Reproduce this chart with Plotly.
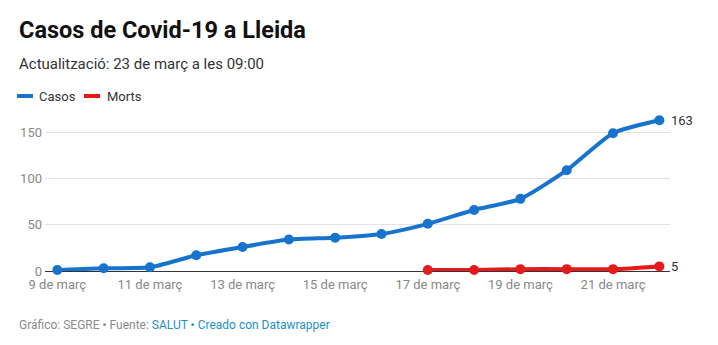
import plotly.graph_objects as go

# Days of March 2020 and daily cumulative counts
days = [9, 10, 11, 12, 13, 14, 15, 16, 17, 18, 19, 20, 21, 22]
casos = [1, 3, 4, 17, 26, 34, 36, 40, 51, 66, 78, 109, 149, 163]
morts_days = [17, 18, 19, 20, 21, 22]
morts = [1, 1, 2, 2, 2, 5]

tick_days = [9, 11, 13, 15, 17, 19, 21]
tick_labels = [f"{d} de març" for d in tick_days]
y_ticks = [0, 50, 100, 150]

BLUE = "#1873cc"
RED = "#e41a1c"
LINK = "#1d8fc7"
FONT = "Roboto"

W, H = 718, 345
ML, MR, MT, MB = 45, 48, 115, 74
PW, PH = W - ML - MR, H - MT - MB


def px_x(x):
    """Pixel column -> paper x."""
    return (x - ML) / PW


def px_y(y):
    """Pixel row -> paper y."""
    return (H - MB - y) / PH


fig = go.Figure()
for xs, ys, name, color in ((days, casos, "Casos", BLUE), (morts_days, morts, "Morts", RED)):
    fig.add_trace(go.Scatter(
        x=xs, y=ys, name=name, mode="lines+markers",
        line=dict(color=color, width=4, shape="spline", smoothing=0.6),
        marker=dict(color=color, size=10), cliponaxis=False, showlegend=False,
    ))
    # value label at the end of the line
    fig.add_annotation(x=xs[-1], y=ys[-1], text=str(ys[-1]), showarrow=False,
                       xanchor="left", xshift=10, yanchor="middle",
                       font=dict(family=FONT, size=13, color="#333333"))

# Header, legend and footer texts
texts = [
    dict(text="<b>Casos de Covid-19 a Lleida</b>", x=17, y=30, size=23.5, color="#111111"),
    dict(text="Actualització: 23 de març a les 09:00", x=17, y=64, size=15, color="#333333"),
    dict(text="Casos", x=37, y=96, size=13, color="#333333"),
    dict(text="Morts", x=105, y=96, size=13, color="#333333"),
    dict(text=(f"Gráfico: SEGRE • Fuente: <span style='color:{LINK}'>SALUT</span>"
               f" <span style='color:{LINK}'>• Creado con Datawrapper</span>"),
         x=17, y=325, size=12, color="#8a8a8a"),
]
for t in texts:
    fig.add_annotation(xref="paper", yref="paper", x=px_x(t["x"]), y=px_y(t["y"]),
                       xanchor="left", yanchor="middle", text=t["text"], showarrow=False,
                       font=dict(family=FONT, size=t["size"], color=t["color"]))

# Legend swatches
for x0, x1, c in ((17, 33, BLUE), (84, 100, RED)):
    fig.add_shape(type="line", xref="paper", yref="paper",
                  x0=px_x(x0), x1=px_x(x1), y0=px_y(96), y1=px_y(96),
                  line=dict(color=c, width=4))

fig.update_layout(
    width=W, height=H,
    margin=dict(l=ML, r=MR, t=MT, b=MB),
    paper_bgcolor="white", plot_bgcolor="white",
    font=dict(family=FONT, size=13, color="#888888"),
    xaxis=dict(range=[8.734, 22.23], tickvals=tick_days, ticktext=tick_labels,
               showgrid=False, zeroline=False, showline=False, ticks="",
               tickfont=dict(family=FONT, size=13, color="#888888"),
               ticklabelstandoff=4),
    yaxis=dict(range=[0, PH / 0.925], tickvals=y_ticks, showgrid=True,
               gridcolor="#e2e2e2", gridwidth=1, zeroline=True, zerolinecolor="#333333",
               zerolinewidth=1, showline=False, ticks="",
               tickfont=dict(family=FONT, size=13, color="#888888"),
               ticklabelstandoff=2),
)

fig.write_html("out.html")
